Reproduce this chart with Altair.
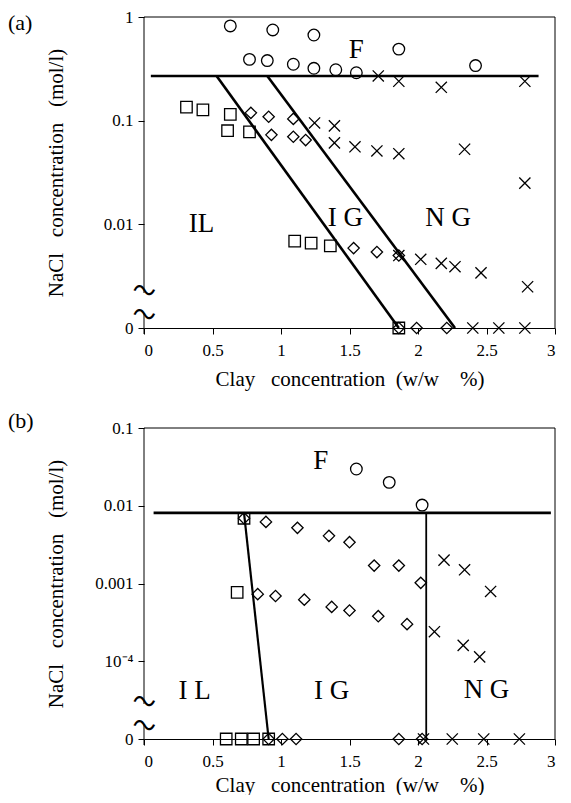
import altair as alt
import pandas as pd

FONT = "Liberation Serif"
W, H = 411, 311

# ---------------- Panel (a) ----------------
a_circle_x = [0.63, 0.94, 1.24, 1.86, 2.42, 0.77, 0.90, 1.09, 1.24, 1.40, 1.55]
a_circle_y = [0.82, 0.75, 0.67, 0.49, 0.34, 0.39, 0.38, 0.35, 0.32, 0.31, 0.29]
a_square_x = [0.31, 0.43, 0.63, 0.61, 0.77, 1.10, 1.22, 1.36, 1.86]
a_square_y = [0.135, 0.127, 0.115, 0.080, 0.078, 0.0069, 0.0066, 0.0062, 0]
a_diamond_x = [0.78, 0.91, 0.93, 1.09, 1.09, 1.18, 1.53, 1.70, 1.86, 1.86, 1.99, 2.21]
a_diamond_y = [0.119, 0.109, 0.073, 0.104, 0.070, 0.065, 0.0059, 0.0054, 0.0050, 0, 0, 0]
a_cross_x = [1.71, 1.86, 2.17, 2.78, 1.245, 1.39, 1.39, 1.54, 1.70, 1.86, 2.34, 2.78,
             1.86, 2.02, 2.17, 2.27, 2.46, 2.80, 2.40, 2.59, 2.78]
a_cross_y = [0.27, 0.24, 0.21, 0.24, 0.095, 0.089, 0.061, 0.056, 0.051, 0.048, 0.053, 0.025,
             0.0050, 0.0046, 0.0042, 0.0039, 0.0034, 0.0025, 0, 0, 0]
a_line_id = ["h", "h", "l1", "l1", "l2", "l2"]
a_line_x = [0.05, 2.88, 0.53, 1.86, 0.90, 2.27]
a_line_y = [0.27, 0.27, 0.27, 0, 0.27, 0]
a_label_text = ["F", "IL", "I G", "N G"]
a_label_x = [1.55, 0.42, 1.47, 2.22]
a_label_y = [0.48, 0.0100, 0.0115, 0.0115]

# ---------------- Panel (b) ----------------
b_circle_x = [1.55, 1.79, 2.03]
b_circle_y = [0.0297, 0.020, 0.0102]
b_square_x = [0.73, 0.68, 0.60, 0.71, 0.80, 0.91]
b_square_y = [0.0069, 0.00077, 0, 0, 0, 0]
b_diamond_x = [0.73, 0.89, 1.12, 1.35, 1.50, 1.68, 1.86, 2.02,
               0.83, 0.96, 1.17, 1.37, 1.50, 1.71, 1.92,
               0.91, 1.01, 1.11, 1.86, 2.03]
b_diamond_y = [0.0069, 0.0062, 0.0052, 0.0041, 0.0034, 0.0017, 0.0017, 0.00102,
               0.00073, 0.00069, 0.00062, 0.00050, 0.00045, 0.00038, 0.00030,
               0, 0, 0, 0, 0]
b_cross_x = [2.19, 2.34, 2.53, 2.12, 2.33, 2.45, 2.04, 2.25, 2.48, 2.74]
b_cross_y = [0.0020, 0.0015, 0.00079, 0.00024, 0.00016, 0.000114, 0, 0, 0, 0]
b_line_id = ["h", "h", "v", "v", "t", "t"]
b_line_x = [0.07, 2.97, 2.06, 2.06, 0.73, 0.91]
b_line_y = [0.0081, 0.0081, 0.0081, 0, 0.0081, 0]
b_line_w = [2.6, 2.6, 1.8, 1.8, 2.2, 2.2]
b_label_text = ["F", "I L", "I G", "N G"]
b_label_x = [1.29, 0.37, 1.37, 2.50]
b_label_y = [0.038, 0.000042, 0.000042, 0.000043]

x_ticks = [0, 0.5, 1, 1.5, 2, 2.5, 3]
SHAPES = ["circle", "square", "diamond", "cross"]
SHAPE_RANGE = ["circle", "square", "diamond", "M-1,-1L1,1M-1,1L1,-1"]
SIZE_RANGE = [135, 125, 105, 135]

AX = dict(labelFont=FONT, labelFontSize=17, labelColor="black",
          titleFont=FONT, titleFontSize=21, titleFontWeight="normal", titleColor="black",
          tickColor="black", tickSize=6, tickWidth=1, domainColor="black", domainWidth=1,
          grid=False)
SP = "\u00a0"
X_TITLE = "Clay" + SP * 3 + "concentration" + SP * 2 + "(w/w" + SP * 4 + "%)"
Y_TITLE = "NaCl" + SP * 3 + "concentration" + SP * 3 + "(mol/l)"


def panel(cx, cy, sx, sy, dx, dy, xx, xy, lid, lx, ly, lw, tt, tx, ty, floor, ymax, yvals,
          tag, tag_y, xtitle_y):
    pts = pd.DataFrame({
        "x": cx + sx + dx + xx,
        "y": cy + sy + dy + xy,
        "s": ["circle"] * len(cx) + ["square"] * len(sx) + ["diamond"] * len(dx) + ["cross"] * len(xx),
    })
    lines = pd.DataFrame({"id": lid, "x": lx, "y": ly, "w": lw})
    labs = pd.DataFrame({"t": tt, "x": tx, "y": ty})

    xenc = alt.X("x:Q", scale=alt.Scale(domain=[0, 3], nice=False, zero=False),
                 axis=alt.Axis(values=x_ticks, format="~g", labelPadding=8,
                               title=X_TITLE, titleY=xtitle_y, titleBaseline="middle", **AX))
    yscale = alt.Scale(type="log", domain=[floor, ymax], nice=False)
    yenc = alt.Y("yy:Q", scale=yscale,
                 axis=alt.Axis(values=yvals, domain=False, labelPadding=5,
                               labelExpr=f"datum.value < {floor * 1.5} ? '0' : datum.value < 2e-4 ? '10\u207b\u2074' : format(datum.value, '~g')",
                               title=Y_TITLE,
                               titleX=-88, titleY=H / 2, titleAngle=270,
                               titleAlign="center", titleBaseline="middle", **AX))
    calc = f"datum.y == 0 ? {floor} : datum.y"

    line_layer = alt.Chart(lines).transform_calculate(yy=calc).mark_line(color="black").encode(
        x=xenc, y=yenc, detail="id:N",
        strokeWidth=alt.StrokeWidth("w:Q", scale=None, legend=None))
    point_layer = alt.Chart(pts).transform_calculate(yy=calc).mark_point(
        filled=False, color="black", strokeWidth=1.3, opacity=1).encode(
        x=xenc, y=yenc,
        shape=alt.Shape("s:N", scale=alt.Scale(domain=SHAPES, range=SHAPE_RANGE), legend=None),
        size=alt.Size("s:N", scale=alt.Scale(domain=SHAPES, range=SIZE_RANGE), legend=None))
    label_layer = alt.Chart(labs).transform_calculate(yy="datum.y").mark_text(
        font=FONT, fontSize=27, color="black").encode(x=xenc, y=yenc, text="t:N")

    one = pd.DataFrame({"t": [tag]})
    tag_layer = alt.Chart(one).mark_text(font=FONT, fontSize=22, align="left", baseline="middle",
                                         color="black").encode(
        text="t:N", x=alt.value(-136), y=alt.value(tag_y))
    top_rule = alt.Chart(one).mark_rule(color="black", strokeWidth=1).encode(
        x=alt.value(0), x2=alt.value(W), y=alt.value(0))
    right_rule = alt.Chart(one).mark_rule(color="black", strokeWidth=1).encode(
        x=alt.value(W), y=alt.value(0), y2=alt.value(H))
    left_up = alt.Chart(one).mark_rule(color="black", strokeWidth=1).encode(
        x=alt.value(0), y=alt.value(0), y2=alt.value(276))
    left_low = alt.Chart(one).mark_rule(color="black", strokeWidth=1).encode(
        x=alt.value(0), y=alt.value(296), y2=alt.value(H + 6))
    brk = pd.DataFrame({"t": ["~", "~"], "py": [274, 298]})
    brk_layer = alt.Chart(brk).mark_text(font=FONT, fontSize=42, angle=18, color="black",
                                         baseline="middle").encode(
        text="t:N", x=alt.value(0), y=alt.Y("py:Q", scale=None))

    return alt.layer(line_layer, point_layer, label_layer, tag_layer, top_rule, right_rule,
                     left_up, left_low, brk_layer).properties(width=W, height=H)


pa = panel(a_circle_x, a_circle_y, a_square_x, a_square_y, a_diamond_x, a_diamond_y,
           a_cross_x, a_cross_y, a_line_id, a_line_x, a_line_y, [2.6] * 6,
           a_label_text, a_label_x, a_label_y, 0.001, 1, [0.001, 0.01, 0.1, 1], "(a)", 6, 51)
pb = panel(b_circle_x, b_circle_y, b_square_x, b_square_y, b_diamond_x, b_diamond_y,
           b_cross_x, b_cross_y, b_line_id, b_line_x, b_line_y, b_line_w,
           b_label_text, b_label_x, b_label_y, 0.00001, 0.1, [0.00001, 0.0001, 0.001, 0.01, 0.1],
           "(b)", -7, 46)

chart = alt.vconcat(pa, pb, spacing=21).properties(
    padding={"left": 0, "top": 0, "right": 0, "bottom": 0}
).configure_view(stroke=None)

chart.save("out.html", embed_options={"renderer": "svg", "actions": False})
